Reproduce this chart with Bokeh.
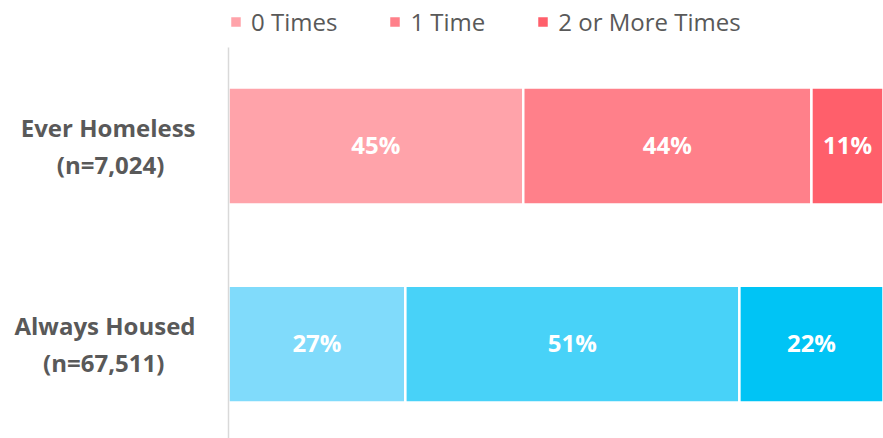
from bokeh.plotting import figure
from bokeh.models import ColumnDataSource, Range1d, Legend, LegendItem, FixedTicker
from bokeh.core.properties import value
from bokeh.embed import file_html
from bokeh.resources import INLINE

# Data
NB = "\u00a0"
groups = ["Ever Homeless\n(n=7,024)" + NB * 5, "Always Housed\n(n=67,511)" + NB * 5]
series = ["0 Times", "1 Time", "2 or More Times"]
zero_times = [45, 27]
one_time = [44, 51]
two_plus = [11, 22]
pink_colors = ["#FFA3AA", "#FF808A", "#FF5F6B"]
blue_colors = ["#80DBFB", "#48D2F8", "#00C4F5"]

FONT = "Open Sans"
GRAY = "#595959"

# first group on top
ypos = [len(groups) - 1 - i for i in range(len(groups))]

p = figure(width=883, height=438, output_backend="svg", toolbar_location=None,
           y_range=Range1d(-0.477, 1.735), x_range=Range1d(0, 100),
           min_border_left=228, min_border_right=0, min_border_top=0, min_border_bottom=0)
p.outline_line_color = None
p.xgrid.visible = False
p.ygrid.visible = False
p.xaxis.visible = False

vals = [zero_times, one_time, two_plus]
left = [0, 0]
items = []
for i, s in enumerate(series):
    v = vals[i]
    right = [l + x for l, x in zip(left, v)]
    src = ColumnDataSource(dict(
        y=ypos, left=left, right=right,
        color=[pink_colors[i], blue_colors[i]],
        mid=[(l + r) / 2 for l, r in zip(left, right)],
        lab=[f"{x}%" for x in v],
    ))
    r = p.hbar(y="y", left="left", right="right", height=0.59, source=src,
               fill_color="color", line_color="white", line_width=2.5)
    p.text(x="mid", y="y", text="lab", source=src, text_color="white",
           text_font=value(FONT), text_font_style="bold", text_font_size="24px",
           text_align="center", text_baseline="middle", y_offset=-2)
    items.append(LegendItem(label=s, renderers=[r], index=0))
    left = right

legend = Legend(items=items, orientation="horizontal", location=(0, 400),
                label_text_font=FONT, label_text_font_size="24px", label_text_color=GRAY,
                glyph_width=15, glyph_height=15, spacing=50, label_standoff=8,
                border_line_color=None, background_fill_alpha=0, padding=0, margin=0)
p.add_layout(legend)

ax = p.yaxis[0]
ax.ticker = FixedTicker(ticks=ypos)
ax.major_label_overrides = {y: g for y, g in zip(ypos, groups)}
ax.bounds = (-0.5, 1.5)
ax.axis_line_color = "#D9D9D9"
ax.axis_line_width = 1.5
ax.major_tick_line_color = None
ax.minor_tick_line_color = None
ax.major_label_text_font = FONT
ax.major_label_text_font_style = "bold"
ax.major_label_text_font_size = "24px"
ax.major_label_text_line_height = 1.1
ax.major_label_text_color = GRAY
ax.major_label_standoff = 27

open("out.html", "w").write(file_html(p, INLINE))
